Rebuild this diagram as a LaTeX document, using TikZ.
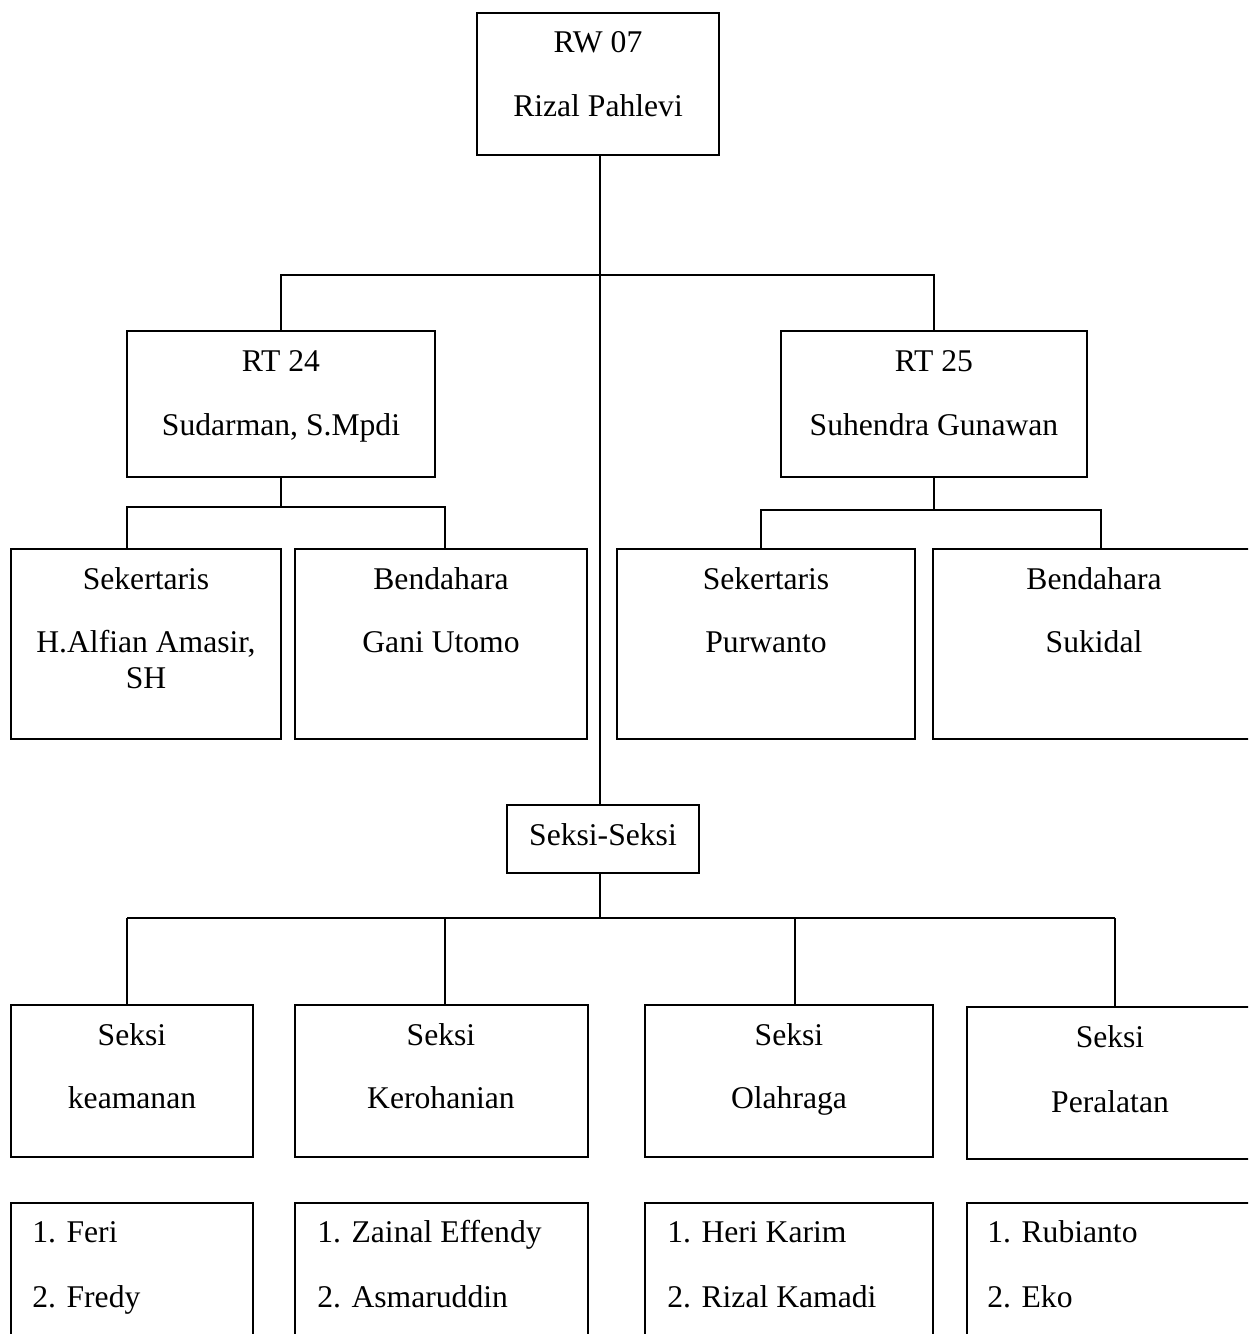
\documentclass[tikz,border=0pt]{standalone}
\usepackage{fontspec}
\setmainfont{Liberation Serif}
\usetikzlibrary{fit}

\tikzset{
  box/.style={draw, line width=1.1pt, inner sep=0pt},
  link/.style={line width=1.1pt},
  txt/.style={anchor=base, inner sep=0pt, font=\fontsize{18}{21.6}\selectfont},
  item/.style={txt, anchor=base west}
}

\begin{document}
\begin{tikzpicture}[x=0.02cm, y=-0.02cm]
    \useasboundingbox (0,0) rectangle (1248,1334);
    \clip (0,0) rectangle (1248,1334);

    % RW (top)
    \node[box, fit={(477,13) (719,155)}] (rw) {};
    \node[txt] (rw-a) at (598,53) {RW 07};
    \node[txt] (rw-b) at (598,117) {Rizal Pahlevi};

    % RT 24 / RT 25
    \node[box, fit={(127,331) (435,477)}] (rt24) {};
    \node[txt] (rt24-a) at (281,372) {RT 24};
    \node[txt] (rt24-b) at (281,435) {Sudarman, S.Mpdi};
    \node[box, fit={(781,331) (1087,477)}] (rt25) {};
    \node[txt] (rt25-a) at (934,372) {RT 25};
    \node[txt] (rt25-b) at (934,435) {Suhendra Gunawan};

    % pengurus RT
    \node[box, fit={(11,549) (281,739)}] (sek24) {};
    \node[txt] (sek24-a) at (146,589) {Sekertaris};
    \node[txt] (sek24-b) at (146,652) {H.Alfian Amasir,};
    \node[txt] (sek24-c) at (146,688) {SH};
    \node[box, fit={(295,549) (587,739)}] (ben24) {};
    \node[txt] (ben24-a) at (441,589) {Bendahara};
    \node[txt] (ben24-b) at (441,652) {Gani Utomo};
    \node[box, fit={(617,549) (915,739)}] (sek25) {};
    \node[txt] (sek25-a) at (766,589) {Sekertaris};
    \node[txt] (sek25-b) at (766,652) {Purwanto};
    \node[box, fit={(933,549) (1256,739)}] (ben25) {};
    \node[txt] (ben25-a) at (1094,589) {Bendahara};
    \node[txt] (ben25-b) at (1094,652) {Sukidal};

    % Seksi-Seksi
    \node[box, fit={(507,805) (699,873)}] (seksi) {};
    \node[txt] (seksi-a) at (603,845) {Seksi-Seksi};

    \node[box, fit={(11,1005) (253,1157)}] (kea) {};
    \node[txt] (kea-a) at (132,1045) {Seksi};
    \node[txt] (kea-b) at (132,1108) {keamanan};
    \node[box, fit={(295,1005) (588,1157)}] (kero) {};
    \node[txt] (kero-a) at (441,1045) {Seksi};
    \node[txt] (kero-b) at (441,1108) {Kerohanian};
    \node[box, fit={(645,1005) (933,1157)}] (olah) {};
    \node[txt] (olah-a) at (789,1045) {Seksi};
    \node[txt] (olah-b) at (789,1108) {Olahraga};
    \node[box, fit={(967,1007) (1254,1159)}] (peral) {};
    \node[txt] (peral-a) at (1110,1047) {Seksi};
    \node[txt] (peral-b) at (1110,1112) {Peralatan};

    % anggota
    \node[box, fit={(11,1203) (253,1350)}] (ang1) {};
    \node[item] (ang1-a) at (32,1242) {1. Feri};
    \node[item] (ang1-b) at (32,1307) {2. Fredy};
    \node[box, fit={(295,1203) (588,1350)}] (ang2) {};
    \node[item] (ang2-a) at (317,1242) {1. Zainal Effendy};
    \node[item] (ang2-b) at (317,1307) {2. Asmaruddin};
    \node[box, fit={(645,1203) (933,1350)}] (ang3) {};
    \node[item] (ang3-a) at (667,1242) {1. Heri Karim};
    \node[item] (ang3-b) at (667,1307) {2. Rizal Kamadi};
    \node[box, fit={(967,1203) (1254,1350)}] (ang4) {};
    \node[item] (ang4-a) at (987,1242) {1. Rubianto};
    \node[item] (ang4-b) at (987,1307) {2. Eko};

    % garis
    \coordinate (trunk) at (600,275);
    \coordinate (j24a) at (127,507);
    \coordinate (j24b) at (445,507);
    \coordinate (j25a) at (761,510);
    \coordinate (j25b) at (1101,510);
    \coordinate (s1) at (127,918);
    \coordinate (s2) at (445,918);
    \coordinate (s3) at (795,918);
    \coordinate (s4) at (1115,918);

    \draw[link] (rw.south -| trunk) -- (seksi.north -| trunk);
    \draw[link] (rt24.north) |- (trunk) -| (rt25.north);

    \draw[link] (rt24.south) -- (rt24.south |- j24a);
    \draw[link] (j24a |- sek24.north) -- (j24a) -- (j24b) -- (j24b |- ben24.north);
    \draw[link] (rt25.south) -- (rt25.south |- j25a);
    \draw[link] (j25a |- sek25.north) -- (j25a) -- (j25b) -- (j25b |- ben25.north);

    \draw[link] (seksi.south -| trunk) -- (s1 -| trunk);
    \draw[link] (s1) -- (s4);
    \foreach \s/\b in {s1/kea, s2/kero, s3/olah, s4/peral}
      \draw[link] (\s) -- (\s |- \b.north);
  \end{tikzpicture}
\end{document}
